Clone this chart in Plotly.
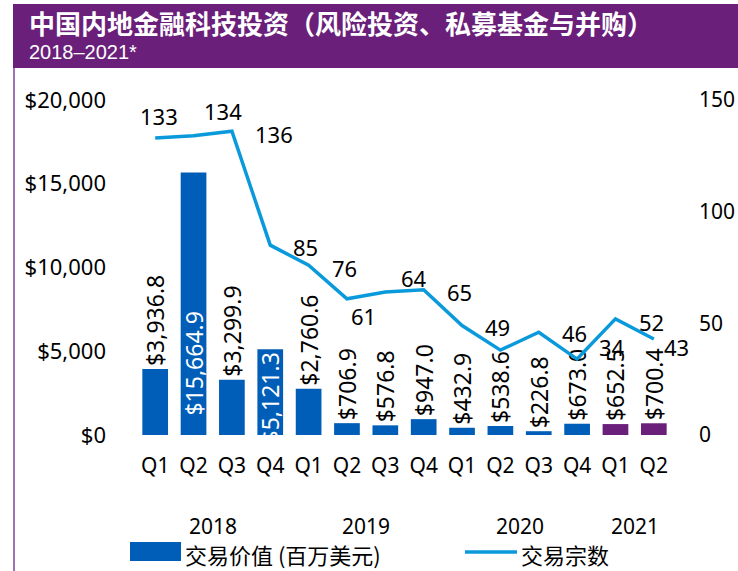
import plotly.graph_objects as go

# ---- data -------------------------------------------------------------
quarters = ["Q1", "Q2", "Q3", "Q4", "Q1", "Q2", "Q3", "Q4",
            "Q1", "Q2", "Q3", "Q4", "Q1", "Q2"]
quarter_years = ["2018"] * 4 + ["2019"] * 4 + ["2020"] * 4 + ["2021"] * 2
years = ["2018", "2019", "2020", "2021"]

# deal value, USD millions
deal_value = [3936.8, 15664.9, 3299.9, 5121.3, 2760.6, 706.9, 576.8,
              947.0, 432.9, 538.6, 226.8, 673.0, 652.5, 700.4]
# number of deals
deal_count = [133, 134, 136, 85, 76, 61, 64, 65, 49, 38, 46, 34, 52, 43]

left_ticks = [0, 5000, 10000, 15000, 20000]
right_ticks = [0, 50, 100, 150]

# ---- styling ----------------------------------------------------------
W, H = 738, 571
ML, MR, MT, MB = 136, 65, 100, 136
PW, PH = W - ML - MR, H - MT - MB

BLUE = "#005EB8"
PURPLE = "#6A1F7A"
LINE = "#0A9ADB"
BORDER = "#9E72B4"
FONT = "Noto Sans, Noto Sans CJK SC, sans-serif"
CJK = "Noto Sans CJK SC, Noto Sans, sans-serif"

N = len(deal_value)


def px_x(px):
    return (px - ML) / PW


def px_y(py):
    return (H - MB - py) / PH


def idx_x(i):
    """category index -> paper x"""
    return (i + 0.5) / N


x_idx = list(range(N))
bar_colors = [PURPLE if y == "2021" else BLUE for y in quarter_years]
money = [f"${v:,.1f}" for v in deal_value]

# label handling per bar: most sit above the bar, two tall ones inside
inside_base = {1}
inside_end = {3}
bar_text = ["" if i in inside_base else t for i, t in enumerate(money)]
bar_textpos = ["none" if i in inside_base else
               ("inside" if i in inside_end else "outside") for i in x_idx]

fig = go.Figure()

fig.add_trace(go.Bar(
    x=x_idx, y=deal_value, width=0.67,
    marker=dict(color=bar_colors, line=dict(width=0)),
    text=bar_text, textposition=bar_textpos, textangle=-90,
    insidetextanchor="end", constraintext="none", cliponaxis=True,
    outsidetextfont=dict(family=FONT, size=23, color="#000000"),
    insidetextfont=dict(family=FONT, size=23, color="#FFFFFF"),
    showlegend=False, hoverinfo="skip", yaxis="y",
))

fig.add_trace(go.Scatter(
    x=x_idx, y=deal_count, mode="lines",
    line=dict(color=LINE, width=3.5),
    showlegend=False, hoverinfo="skip", yaxis="y2",
))

annotations = []

# label inside the tallest bar, sitting a little above its base
for i in inside_base:
    annotations.append(dict(
        x=i, y=0, xref="x", yref="y", text=money[i], textangle=-90,
        xanchor="center", yanchor="bottom", yshift=17, showarrow=False,
        font=dict(family=FONT, size=23, color="#FFFFFF"),
    ))

# deal-count labels (x in category index, y on the right-hand scale)
count_label_pos = [(0.09, 142.8), (1.76, 145.1), (3.09, 134.8), (3.92, 84.3),
                   (4.94, 74.9), (5.43, 53.4), (6.74, 70.4), (7.94, 64.2),
                   (8.93, 48.5), None, (10.93, 45.8), (11.9, 39.6),
                   (12.94, 50.7), (13.59, 39.6)]
for n, pos in zip(deal_count, count_label_pos):
    if pos is None:
        continue
    annotations.append(dict(
        x=idx_x(pos[0]), y=pos[1], xref="paper", yref="y2", text=str(n),
        showarrow=False, xanchor="center", yanchor="middle",
        font=dict(family=FONT, size=22, color="#000000"),
    ))

# year labels centred under their quarters
for yr in years:
    idx = [i for i, q in enumerate(quarter_years) if q == yr]
    annotations.append(dict(
        x=idx_x(sum(idx) / len(idx)), y=px_y(526), xref="paper",
        yref="paper", text=yr, showarrow=False, xanchor="center",
        yanchor="middle",
        font=dict(family=FONT, size=21, color="#000000"),
    ))

# header
annotations.append(dict(
    x=px_x(27), y=px_y(23), xref="paper", yref="paper",
    text="<b>中国内地金融科技投资（风险投资、私募基金与并购）</b>",
    showarrow=False, xanchor="left", yanchor="middle",
    font=dict(family=CJK, size=26, color="#FFFFFF"),
))
annotations.append(dict(
    x=px_x(27), y=px_y(52), xref="paper", yref="paper",
    text="2018–2021*", showarrow=False, xanchor="left", yanchor="middle",
    font=dict(family="Liberation Sans, Arial, sans-serif", size=20,
              color="#FFFFFF"),
))

# legend
annotations.append(dict(
    x=px_x(183), y=px_y(554), xref="paper", yref="paper",
    text="交易价值 (百万美元)", showarrow=False, xanchor="left",
    yanchor="middle", font=dict(family=CJK, size=22, color="#000000"),
))
annotations.append(dict(
    x=px_x(519), y=px_y(554), xref="paper", yref="paper",
    text="交易宗数", showarrow=False, xanchor="left",
    yanchor="middle", font=dict(family=CJK, size=22, color="#000000"),
))

shapes = [
    dict(type="rect", xref="paper", yref="paper", layer="below",
         x0=px_x(13), x1=px_x(W), y0=px_y(68), y1=px_y(4),
         fillcolor=PURPLE, line=dict(width=0)),
    dict(type="line", xref="paper", yref="paper", layer="below",
         x0=px_x(14), x1=px_x(14), y0=px_y(68), y1=px_y(H),
         line=dict(color=BORDER, width=2)),
    dict(type="rect", xref="paper", yref="paper",
         x0=px_x(130), x1=px_x(181), y0=px_y(561), y1=px_y(542),
         fillcolor=BLUE, line=dict(width=0)),
    dict(type="line", xref="paper", yref="paper",
         x0=px_x(465), x1=px_x(517), y0=px_y(552), y1=px_y(552),
         line=dict(color=LINE, width=3.5)),
]

fig.update_layout(
    width=W, height=H,
    margin=dict(l=ML, r=MR, t=MT, b=MB, pad=0, autoexpand=False),
    paper_bgcolor="#FFFFFF", plot_bgcolor="#FFFFFF",
    barmode="overlay", showlegend=False,
    font=dict(family=FONT, color="#000000"),
    xaxis=dict(
        range=[-0.5, N - 0.5], tickmode="array", automargin=False,
        tickvals=x_idx, ticktext=quarters, showgrid=False, zeroline=False,
        showline=False, ticks="", ticklabelstandoff=16,
        tickfont=dict(family=FONT, size=21, color="#000000"),
    ),
    yaxis=dict(
        range=[0, 20000], tickmode="array", tickvals=left_ticks,
        automargin=False,
        ticktext=[f"${v:,}" for v in left_ticks], showgrid=False,
        zeroline=False, showline=False, ticks="", ticklabelstandoff=29,
        tickfont=dict(family=FONT, size=22, color="#000000"),
    ),
    yaxis2=dict(
        range=[0, 150], tickmode="array", tickvals=right_ticks,
        automargin=False,
        ticktext=[str(v) for v in right_ticks], overlaying="y",
        side="right", showgrid=False, zeroline=False, showline=False,
        ticks="", ticklabelstandoff=25,
        tickfont=dict(family=FONT, size=21, color="#000000"),
    ),
    annotations=annotations, shapes=shapes,
)

fig.write_html("out.html")
